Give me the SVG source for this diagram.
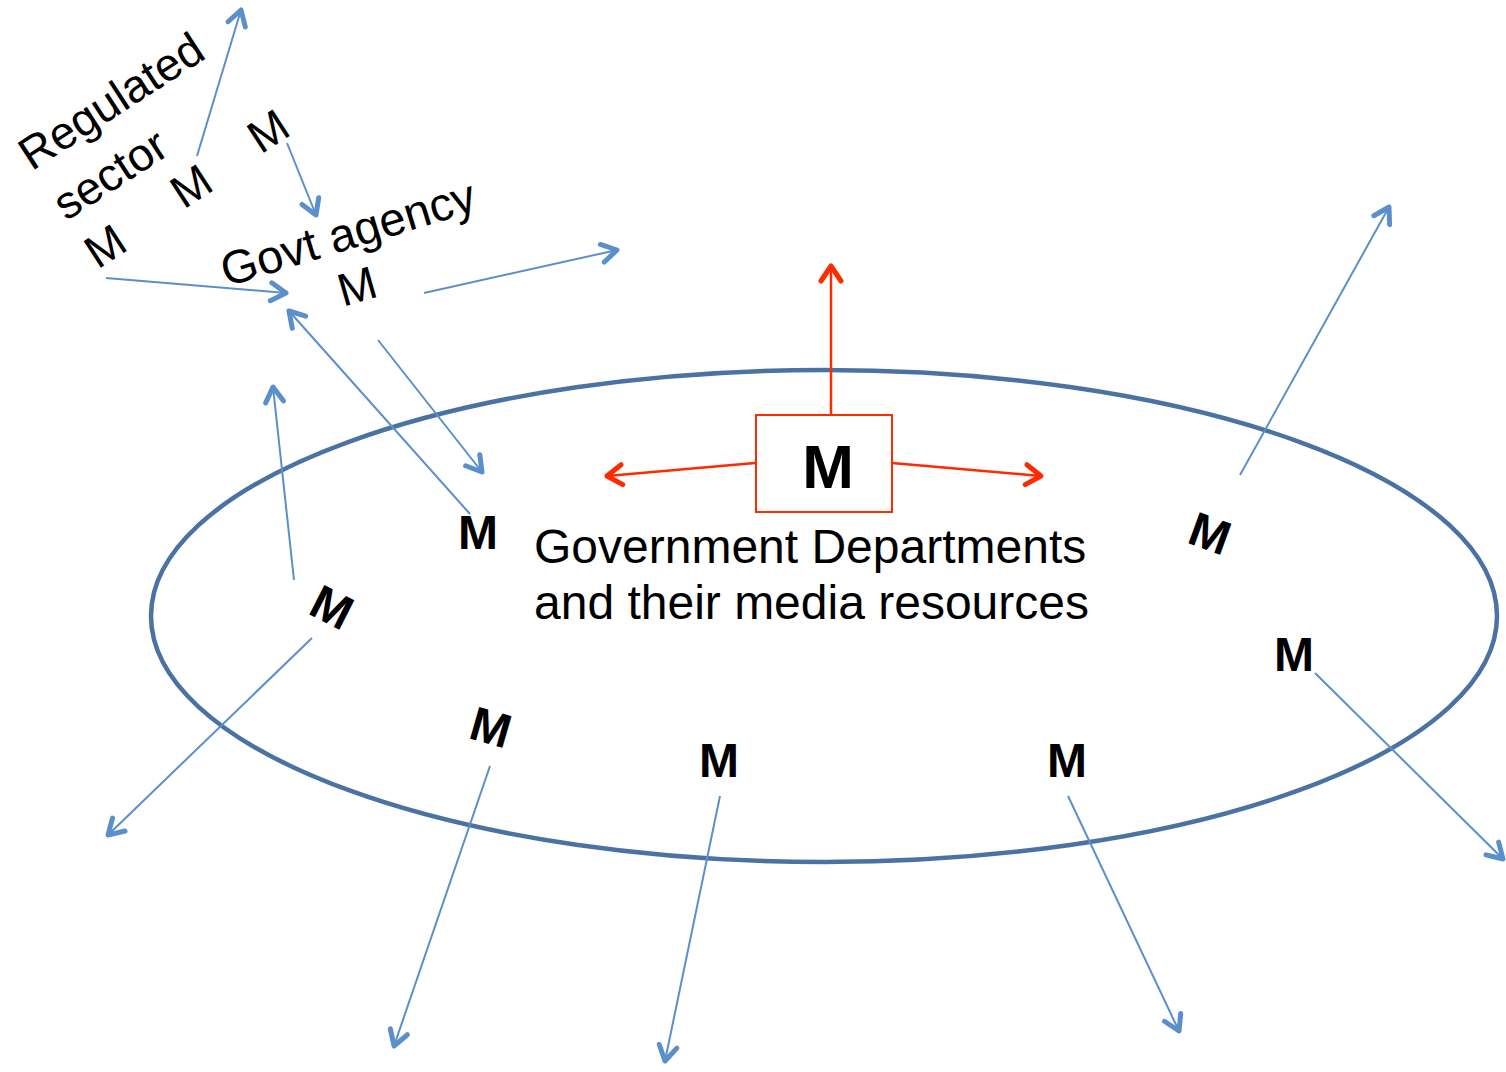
<svg xmlns="http://www.w3.org/2000/svg" width="1506" height="1072" viewBox="0 0 1506 1072">
<style>
.t{font-family:"Liberation Sans",Arial,sans-serif;fill:#000}
.b{font-family:"Liberation Sans",Arial,sans-serif;font-weight:bold;fill:#000}
.bl{stroke:#5b8fcb;stroke-width:2;fill:none}
.rd{stroke:#ff2a00;stroke-width:2.5;fill:none}
</style>
<defs>
<marker id="ab" markerUnits="userSpaceOnUse" markerWidth="30" markerHeight="30" refX="20" refY="15" orient="auto">
<path d="M5,6 L20,15 L5,24" fill="none" stroke="#5b8fcb" stroke-width="5" stroke-linecap="round" stroke-linejoin="round"/>
</marker>
<marker id="ar" markerUnits="userSpaceOnUse" markerWidth="30" markerHeight="30" refX="20" refY="15" orient="auto">
<path d="M5,5 L20,15 L5,25" fill="none" stroke="#ff2a00" stroke-width="5" stroke-linecap="round" stroke-linejoin="round"/>
</marker>
</defs>
<rect width="1506" height="1072" fill="#fff"/>
<g id="ellipse">
<ellipse cx="824" cy="616" rx="673" ry="246" fill="none" stroke="#4a73a3" stroke-width="4.5"/>
</g>
<g id="connectors">
<line class="bl" x1="197" y1="156" x2="241" y2="10" marker-end="url(#ab)"/>
<line class="bl" x1="287" y1="143" x2="316" y2="215" marker-end="url(#ab)"/>
<line class="bl" x1="106" y1="278" x2="286" y2="293" marker-end="url(#ab)"/>
<line class="bl" x1="424" y1="293" x2="617" y2="250" marker-end="url(#ab)"/>
<line class="bl" x1="470" y1="514" x2="289" y2="311" marker-end="url(#ab)"/>
<line class="bl" x1="378" y1="340" x2="482" y2="472" marker-end="url(#ab)"/>
<line class="bl" x1="294" y1="580" x2="273" y2="387" marker-end="url(#ab)"/>
<line class="bl" x1="312" y1="638" x2="108" y2="835" marker-end="url(#ab)"/>
<line class="bl" x1="490" y1="766" x2="394" y2="1046" marker-end="url(#ab)"/>
<line class="bl" x1="720" y1="796" x2="665" y2="1061" marker-end="url(#ab)"/>
<line class="bl" x1="1068" y1="796" x2="1179" y2="1031" marker-end="url(#ab)"/>
<line class="bl" x1="1315" y1="673" x2="1503" y2="859" marker-end="url(#ab)"/>
<line class="bl" x1="1240" y1="475" x2="1389" y2="207" marker-end="url(#ab)"/>
<line class="rd" x1="831" y1="415" x2="831" y2="266" marker-end="url(#ar)"/>
<line class="rd" x1="755" y1="463" x2="607" y2="476" marker-end="url(#ar)"/>
<line class="rd" x1="892" y1="463" x2="1041" y2="476" marker-end="url(#ar)"/>
</g>
<g id="red-box">
<rect x="756" y="415" width="136" height="97" fill="#fff" stroke="#ff2a00" stroke-width="2"/>
<text class="b" x="828" y="488" font-size="62" text-anchor="middle">M</text>
</g>
<g id="govt-departments">
<text class="t" x="534" y="563" font-size="48">Government Departments</text>
<text class="t" x="534" y="619" font-size="48">and their media resources</text>
</g>
<g id="regulated-sector">
<text class="t" font-size="46" text-anchor="middle" transform="translate(111,101) rotate(-33)" y="16">Regulated</text>
<text class="t" font-size="46" text-anchor="middle" transform="translate(110,174) rotate(-33)" y="16">sector</text>
<text class="t" font-size="46" text-anchor="middle" transform="translate(268,131) rotate(-33)" y="16">M</text>
<text class="t" font-size="46" text-anchor="middle" transform="translate(191,186) rotate(-33)" y="16">M</text>
<text class="t" font-size="46" text-anchor="middle" transform="translate(105,246) rotate(-33)" y="16">M</text>
</g>
<g id="govt-agency">
<text class="t" font-size="47" text-anchor="middle" transform="translate(348,233) rotate(-17)" y="16">Govt agency</text>
<text class="t" font-size="46" text-anchor="middle" transform="translate(357,286) rotate(-16)" y="16">M</text>
</g>
<g id="dept-ms">
<text class="b" font-size="48" text-anchor="middle" x="478" y="549">M</text>
<text class="b" font-size="48" text-anchor="middle" transform="translate(332,607) rotate(27)" y="17">M</text>
<text class="b" font-size="48" text-anchor="middle" transform="translate(491,727) rotate(16)" y="17">M</text>
<text class="b" font-size="48" text-anchor="middle" x="719" y="777">M</text>
<text class="b" font-size="48" text-anchor="middle" x="1067" y="777">M</text>
<text class="b" font-size="48" text-anchor="middle" x="1294" y="671">M</text>
<text class="b" font-size="48" text-anchor="middle" transform="translate(1210,533) rotate(20)" y="17">M</text>
</g>
</svg>
